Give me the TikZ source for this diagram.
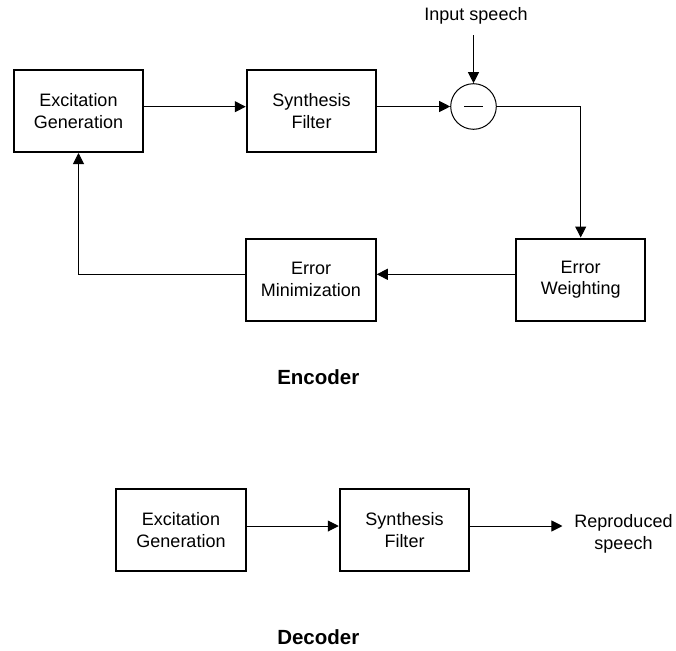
\documentclass[tikz,border=0pt]{standalone}
\usepackage{fontspec}
\setmainfont{Liberation Sans}
\usetikzlibrary{arrows.meta}
\begin{document}
\begin{tikzpicture}[x=1pt,y=-1pt,
  blk/.style={draw, line width=2pt, minimum width=129.5pt, minimum height=82pt,
    align=center, inner sep=0pt, font=\fontsize{18}{21.5}\selectfont},
  conn/.style={line width=1pt, -{Triangle[length=11pt,width=11pt]}},
  wire/.style={line width=1pt},
  lbl/.style={align=center, inner sep=0pt, font=\fontsize{18}{21.5}\selectfont},
  heading/.style={inner sep=0pt, font=\fontsize{20.5}{24}\selectfont\bfseries}]
\useasboundingbox (0,0) rectangle (676,650);

% ---- encoder ----
\node[blk] (exc) at (78.5,111) {Excitation\\Generation};
\node[blk] (syn) at (311.5,111) {Synthesis\\Filter};
\node[draw, circle, line width=1pt, minimum size=45.6pt, inner sep=0pt] (sum) at (473.5,106.5) {};
\draw[wire] ([xshift=-9.5pt]sum.center) -- ([xshift=9.5pt]sum.center);
\node[lbl, inner ysep=10.5pt] (inp) at (476,16) {Input speech};
\node[blk] (ew) at (580.7,279.5) {Error\\Weighting};
\node[blk] (em) at (311,279.5) {Error\\Minimization};
\node[heading] (enc) at (318.3,377.5) {Encoder};

\draw[conn] ([yshift=4.3pt]exc.east) -- ([yshift=4.3pt]syn.west);
\draw[conn] ([yshift=4.5pt]syn.east) -- (sum.west);
\draw[conn] (inp.south -| sum.north) -- (sum.north);
\draw[conn] (sum.east) -| (ew.north);
\draw[conn] ([yshift=5.2pt]ew.west) -- ([yshift=5.2pt]em.east);
\draw[conn] ([yshift=5.2pt]em.west) -| (exc.south);

% ---- decoder ----
\node[blk] (dexc) at (181,530) {Excitation\\Generation};
\node[blk] (dsyn) at (404.5,530) {Synthesis\\Filter};
\node[lbl, outer xsep=12pt] (out) at (623.5,534) {Reproduced\\speech};
\node[heading] (dec) at (318.3,637.5) {Decoder};

\draw[conn] ([yshift=4pt]dexc.east) -- ([yshift=4pt]dsyn.west);
\draw[conn] ([yshift=4pt]dsyn.east) -- ([yshift=8pt]out.west);
\end{tikzpicture}
\end{document}
